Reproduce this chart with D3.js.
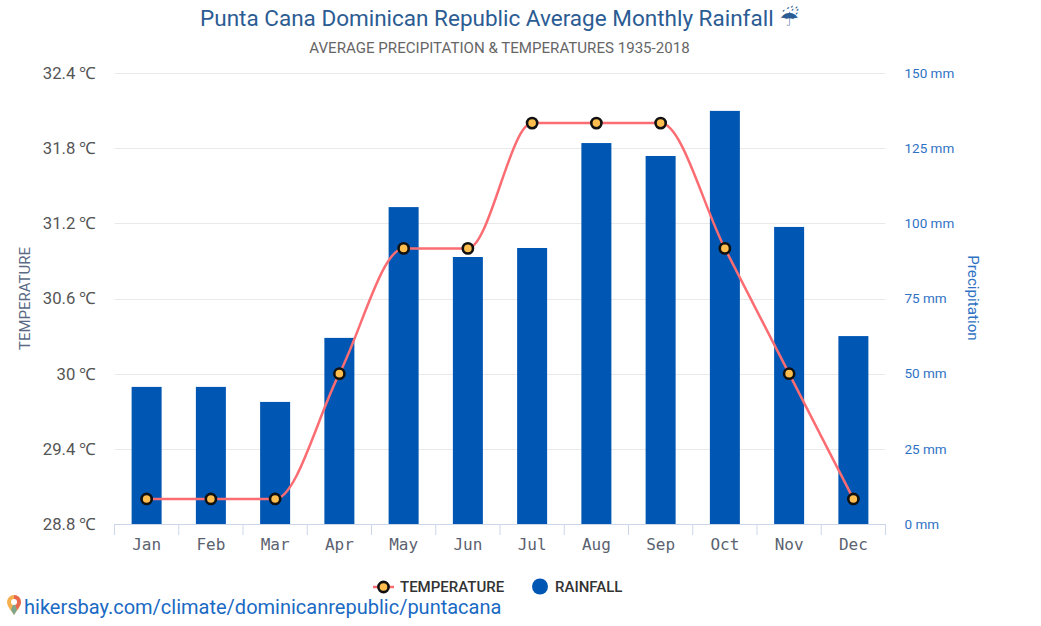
<!DOCTYPE html>
<html><head><meta charset="utf-8">
<script src="https://cdn.jsdelivr.net/npm/d3@7/dist/d3.min.js"></script>
<style>
html,body{margin:0;padding:0;background:#fff}
svg{display:block}
text{font-family:Roboto,sans-serif}
</style></head><body>
<svg id="c" width="1041" height="626"></svg>
<script>
const months=["Jan","Feb","Mar","Apr","May","Jun","Jul","Aug","Sep","Oct","Nov","Dec"];
const rainfall=[45.6,45.6,40.6,61.9,105.4,88.8,91.8,126.7,122.4,137.4,98.8,62.5];
const temperature=[29,29,29,30,31,31,32,32,32,31,30,29];
const tempTicks=[28.8,29.4,30,30.6,31.2,31.8,32.4];
const rainTicks=[0,25,50,75,100,125,150];
const titleText="Punta Cana Dominican Republic Average Monthly Rainfall ";
const titleIcon="\u2614\uFE0E";
const subtitleText="AVERAGE PRECIPITATION & TEMPERATURES 1935-2018";
const linkText="hikersbay.com/climate/dominicanrepublic/puntacana";

const svg=d3.select("#c");
const L=114.5,R=885.5,T=73,B=524;
const x=d3.scaleBand().domain(months).range([L,R]);
const yT=d3.scaleLinear().domain([28.8,32.4]).range([B,T]);
const yR=d3.scaleLinear().domain([0,150]).range([B,T]);

const title=svg.append("text").attr("x",499.5).attr("y",26).attr("text-anchor","middle")
  .attr("font-size",22.5).attr("fill","#2b5c93");
title.append("tspan").text(titleText);
title.append("tspan").style("font-family","'DejaVu Sans'").attr("font-size",22).text(titleIcon);
svg.append("text").attr("x",499.5).attr("y",53).attr("text-anchor","middle")
  .attr("font-size",15.1).attr("fill","#666").text(subtitleText);

// grid
svg.append("g").selectAll("line").data(rainTicks.slice(1)).join("line")
  .attr("x1",L).attr("x2",R).attr("y1",d=>Math.round(yR(d))+.5).attr("y2",d=>Math.round(yR(d))+.5)
  .attr("stroke","#e9e9e9").attr("stroke-width",1);

// bars
svg.append("g").selectAll("rect").data(rainfall).join("rect")
  .attr("x",(d,i)=>x(months[i])+x.bandwidth()/2-15).attr("width",30)
  .attr("y",d=>yR(d)).attr("height",d=>B-yR(d))
  .attr("fill","#0056b3");

// x axis
const gx=svg.append("g").attr("transform",`translate(0,${B})`)
  .call(d3.axisBottom(x).tickSize(0).tickPadding(15));
gx.select(".domain").attr("stroke","#ccd6eb");
gx.selectAll("text").style("font-family","'DejaVu Sans Mono',monospace").attr("font-size",16).attr("fill","#5b6270");
svg.append("g").selectAll("line").data(months.map(m=>x(m)).concat([R])).join("line")
  .attr("x1",d=>d).attr("x2",d=>d).attr("y1",B).attr("y2",B+11).attr("stroke","#ccd6eb");

// left axis
const gl=svg.append("g").attr("transform",`translate(${L},0)`)
  .call(d3.axisLeft(yT).tickValues(tempTicks).tickSize(0).tickPadding(18).tickFormat(d=>d+" ℃"));
gl.select(".domain").remove();
gl.selectAll("text").attr("font-size",16.7).attr("fill","#555");

// right axis
const gr=svg.append("g").attr("transform",`translate(${R},0)`)
  .call(d3.axisRight(yR).tickValues(rainTicks).tickSize(0).tickPadding(19).tickFormat(d=>d+" mm"));
gr.select(".domain").remove();
gr.selectAll("text").attr("font-size",13.5).attr("fill","#2f72c4");

svg.append("text").attr("transform","translate(30,298.5) rotate(-90)").attr("text-anchor","middle")
  .attr("font-size",15).attr("fill","#5a6a85").text("TEMPERATURE");
svg.append("text").attr("transform","translate(968,298) rotate(90)").attr("text-anchor","middle")
  .attr("font-size",15.2).attr("fill","#2f72c4").text("Precipitation");

// line
const cx=i=>x(months[i])+x.bandwidth()/2;
const line=d3.line().x((d,i)=>cx(i)).y(d=>yT(d)).curve(d3.curveMonotoneX);
svg.append("path").attr("d",line(temperature)).attr("fill","none").attr("stroke","#fb6d72").attr("stroke-width",2.5);
svg.append("g").selectAll("circle").data(temperature).join("circle")
  .attr("cx",(d,i)=>cx(i)).attr("cy",d=>yT(d)).attr("r",5.1)
  .attr("fill","#fdbe4f").attr("stroke","#111").attr("stroke-width",2.6);

// legend
const lg=svg.append("g");
lg.append("line").attr("x1",373).attr("x2",394).attr("y1",587).attr("y2",587).attr("stroke","#fb6d72").attr("stroke-width",2.5);
lg.append("circle").attr("cx",383.5).attr("cy",587).attr("r",5.1).attr("fill","#fdbe4f").attr("stroke","#111").attr("stroke-width",2.6);
lg.append("text").attr("x",400).attr("y",592).attr("font-size",15).attr("font-weight",500).attr("fill","#333").text("TEMPERATURE");
lg.append("circle").attr("cx",540).attr("cy",586.5).attr("r",8).attr("fill","#0056b3");
lg.append("text").attr("x",555).attr("y",592).attr("font-size",15).attr("font-weight",500).attr("fill","#333").text("RAINFALL");

// footer pin and link
const pin=svg.append("g").attr("transform","translate(14,605)");
pin.append("path").attr("d","M0,10 C-2,6 -7,2 -7,-3 A7,7 0 0 1 7,-3 C7,2 2,6 0,10 Z").attr("fill","#f4b04f");
pin.append("path").attr("d","M0,-10 A7,7 0 0 1 7,-3 C7,0 5,2 3,5 L0,-3 Z").attr("fill","#e8684f");
pin.append("path").attr("d","M-3,5 L0,-3 L3,5 C2,7 1,8 0,10 C-1,8 -2,7 -3,5 Z").attr("fill","#7fa58c");
pin.append("circle").attr("cy",-3).attr("r",3).attr("fill","#fff");
svg.append("text").attr("x",24).attr("y",614).attr("font-size",20).attr("fill","#1a6ac4").text(linkText);
</script></body></html>
